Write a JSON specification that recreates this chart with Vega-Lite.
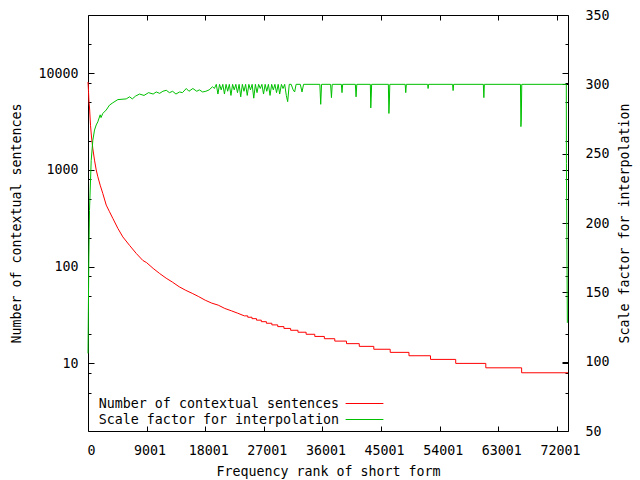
{
  "$schema": "https://vega.github.io/schema/vega-lite/v6.json",
  "width": 480,
  "height": 416,
  "autosize": "none",
  "padding": {"left": 88, "top": 15, "right": 72, "bottom": 49},
  "background": "white",
  "config": {
    "view": {"stroke": "#000", "strokeWidth": 1},
    "axis": {
      "labelFont": "DejaVu Sans Mono", "labelFontSize": 13.3, "labelColor": "#000",
      "titleFont": "DejaVu Sans Mono", "titleFontSize": 13.3, "titleFontWeight": "normal", "titleColor": "#000",
      "domain": false, "grid": false, "tickColor": "#000", "tickWidth": 1
    }
  },
  "datasets": {
    "red": [
      {"rank": 1, "n": 8130}, {"rank": 77, "n": 6500}, {"rank": 150, "n": 5000}, {"rank": 230, "n": 4480},
      {"rank": 384, "n": 2900}, {"rank": 538, "n": 2190}, {"rank": 738, "n": 1665}, {"rank": 1000, "n": 1263},
      {"rank": 1260, "n": 1000}, {"rank": 1510, "n": 850}, {"rank": 1870, "n": 696}, {"rank": 2270, "n": 572},
      {"rank": 2800, "n": 433}, {"rank": 3300, "n": 370}, {"rank": 3810, "n": 316}, {"rank": 4580, "n": 249},
      {"rank": 5350, "n": 203}, {"rank": 6380, "n": 166}, {"rank": 7410, "n": 137}, {"rank": 8420, "n": 116},
      {"rank": 9000, "n": 110}, {"rank": 10000, "n": 96}, {"rank": 11000, "n": 85}, {"rank": 12000, "n": 76},
      {"rank": 13000, "n": 69}, {"rank": 14000, "n": 62}, {"rank": 15000, "n": 57}, {"rank": 16000, "n": 53},
      {"rank": 17000, "n": 49}, {"rank": 18000, "n": 45}, {"rank": 19000, "n": 42}, {"rank": 20000, "n": 40},
      {"rank": 21000, "n": 37}, {"rank": 22000, "n": 35}, {"rank": 23000, "n": 33}, {"rank": 24000, "n": 31},
      {"rank": 24530, "n": 31}, {"rank": 24530, "n": 30}, {"rank": 25180, "n": 30}, {"rank": 25180, "n": 29},
      {"rank": 25870, "n": 29}, {"rank": 25870, "n": 28}, {"rank": 26610, "n": 28}, {"rank": 26610, "n": 27},
      {"rank": 27390, "n": 27}, {"rank": 27390, "n": 26}, {"rank": 28230, "n": 26}, {"rank": 28230, "n": 25},
      {"rank": 29130, "n": 25}, {"rank": 29130, "n": 24}, {"rank": 30080, "n": 24}, {"rank": 30080, "n": 23},
      {"rank": 31110, "n": 23}, {"rank": 31110, "n": 22}, {"rank": 32240, "n": 22}, {"rank": 32240, "n": 21},
      {"rank": 33490, "n": 21}, {"rank": 33490, "n": 20}, {"rank": 34820, "n": 20}, {"rank": 34820, "n": 19},
      {"rank": 36290, "n": 19}, {"rank": 36290, "n": 18}, {"rank": 37890, "n": 18}, {"rank": 37890, "n": 17},
      {"rank": 39690, "n": 17}, {"rank": 39690, "n": 16}, {"rank": 41650, "n": 16}, {"rank": 41650, "n": 15},
      {"rank": 43880, "n": 15}, {"rank": 43880, "n": 14}, {"rank": 46400, "n": 14}, {"rank": 46400, "n": 13},
      {"rank": 49280, "n": 13}, {"rank": 49280, "n": 12}, {"rank": 52590, "n": 12}, {"rank": 52590, "n": 11},
      {"rank": 56460, "n": 11}, {"rank": 56460, "n": 10}, {"rank": 61080, "n": 10}, {"rank": 61080, "n": 9},
      {"rank": 66580, "n": 9}, {"rank": 66580, "n": 8}, {"rank": 73700, "n": 8}
    ],
    "green": [
      {"rank": 1, "s": 106}, {"rank": 120, "s": 172}, {"rank": 230, "s": 209}, {"rank": 490, "s": 245},
      {"rank": 740, "s": 259.6}, {"rank": 1000, "s": 267}, {"rank": 1260, "s": 270.7}, {"rank": 1510, "s": 273},
      {"rank": 1870, "s": 278}, {"rank": 2000, "s": 276}, {"rank": 2270, "s": 279}, {"rank": 2800, "s": 281.5},
      {"rank": 3300, "s": 285}, {"rank": 3810, "s": 286.7}, {"rank": 4580, "s": 289}, {"rank": 5870, "s": 289.5},
      {"rank": 6380, "s": 291}, {"rank": 6800, "s": 289.5}, {"rank": 7300, "s": 291.5}, {"rank": 7910, "s": 293},
      {"rank": 8600, "s": 292}, {"rank": 9300, "s": 294}, {"rank": 10000, "s": 293}, {"rank": 10480, "s": 294.5},
      {"rank": 11000, "s": 293.5}, {"rank": 11500, "s": 295}, {"rank": 12020, "s": 295.7}, {"rank": 12500, "s": 294},
      {"rank": 13000, "s": 295}, {"rank": 13500, "s": 293}, {"rank": 14060, "s": 294.5}, {"rank": 14500, "s": 294},
      {"rank": 15090, "s": 297}, {"rank": 15500, "s": 295}, {"rank": 16100, "s": 297}, {"rank": 16700, "s": 295},
      {"rank": 17100, "s": 296}, {"rank": 17600, "s": 294.5}, {"rank": 18100, "s": 295}, {"rank": 18600, "s": 296},
      {"rank": 19130, "s": 298.3}, {"rank": 19400, "s": 297}, {"rank": 19700, "s": 300},
      {"rank": 19950, "s": 293}, {"rank": 20200, "s": 300}, {"rank": 20450, "s": 296}, {"rank": 20700, "s": 300},
      {"rank": 20950, "s": 293}, {"rank": 21200, "s": 300}, {"rank": 21450, "s": 295}, {"rank": 21700, "s": 300},
      {"rank": 21950, "s": 292}, {"rank": 22200, "s": 300}, {"rank": 22450, "s": 296}, {"rank": 22700, "s": 300},
      {"rank": 22950, "s": 294}, {"rank": 23200, "s": 300}, {"rank": 23450, "s": 291}, {"rank": 23700, "s": 300},
      {"rank": 23950, "s": 295}, {"rank": 24200, "s": 300}, {"rank": 24450, "s": 292}, {"rank": 24700, "s": 300},
      {"rank": 24950, "s": 296}, {"rank": 25200, "s": 300}, {"rank": 25450, "s": 290}, {"rank": 25700, "s": 300},
      {"rank": 25950, "s": 294}, {"rank": 26200, "s": 300}, {"rank": 26450, "s": 297}, {"rank": 26700, "s": 300},
      {"rank": 26950, "s": 293}, {"rank": 27200, "s": 300}, {"rank": 27450, "s": 295}, {"rank": 27700, "s": 300},
      {"rank": 27950, "s": 292}, {"rank": 28200, "s": 300}, {"rank": 28450, "s": 296}, {"rank": 28700, "s": 300},
      {"rank": 28950, "s": 294}, {"rank": 29200, "s": 300}, {"rank": 29430, "s": 293}, {"rank": 29700, "s": 300},
      {"rank": 29950, "s": 297}, {"rank": 30200, "s": 300}, {"rank": 30450, "s": 292}, {"rank": 30660, "s": 287.5},
      {"rank": 30900, "s": 300}, {"rank": 31200, "s": 300}, {"rank": 31500, "s": 296}, {"rank": 31730, "s": 294.5},
      {"rank": 31950, "s": 300}, {"rank": 32600, "s": 300}, {"rank": 32860, "s": 294.5}, {"rank": 33100, "s": 300},
      {"rank": 35600, "s": 300}, {"rank": 35730, "s": 285.6}, {"rank": 35860, "s": 300},
      {"rank": 37250, "s": 300}, {"rank": 37380, "s": 290.4}, {"rank": 37500, "s": 300},
      {"rank": 38900, "s": 300}, {"rank": 39000, "s": 294}, {"rank": 39100, "s": 300},
      {"rank": 41050, "s": 300}, {"rank": 41160, "s": 291}, {"rank": 41270, "s": 300},
      {"rank": 43350, "s": 300}, {"rank": 43420, "s": 283}, {"rank": 43480, "s": 290}, {"rank": 43550, "s": 300},
      {"rank": 46120, "s": 300}, {"rank": 46200, "s": 279}, {"rank": 46260, "s": 285}, {"rank": 46340, "s": 300},
      {"rank": 48700, "s": 300}, {"rank": 48790, "s": 294}, {"rank": 48880, "s": 300},
      {"rank": 52150, "s": 300}, {"rank": 52220, "s": 297}, {"rank": 52300, "s": 300},
      {"rank": 55980, "s": 300}, {"rank": 56060, "s": 295.5}, {"rank": 56140, "s": 300},
      {"rank": 60700, "s": 300}, {"rank": 60780, "s": 290.4}, {"rank": 60860, "s": 300},
      {"rank": 66400, "s": 300}, {"rank": 66470, "s": 269.5}, {"rank": 66530, "s": 275}, {"rank": 66600, "s": 300},
      {"rank": 73440, "s": 300}, {"rank": 73460, "s": 243}, {"rank": 73600, "s": 128}
    ]
  },
  "layer": [
    {
      "data": {"name": "red"},
      "transform": [{"fold": ["n"], "as": ["series", "value"]}],
      "mark": {"type": "line", "strokeWidth": 1},
      "encoding": {
        "x": {
          "field": "rank", "type": "quantitative",
          "scale": {"domain": [0, 73700], "nice": false, "zero": false},
          "axis": {
            "orient": "bottom",
            "values": [0, 9001, 18001, 27001, 36001, 45001, 54001, 63001, 72001],
            "format": "d", "tickSize": -5, "labelPadding": 17, "labelFlush": false, "labelOffset": 3,
            "title": "Frequency rank of short form", "titlePadding": 8
          }
        },
        "y": {
          "field": "value", "type": "quantitative",
          "scale": {"type": "log", "domain": [2, 40000], "nice": false},
          "axis": {
            "orient": "left",
            "values": [5, 8, 10, 20, 50, 80, 100, 200, 500, 800, 1000, 2000, 5000, 8000, 10000, 20000],
            "labelExpr": "(datum.value == 10 || datum.value == 100 || datum.value == 1000 || datum.value == 10000) ? format(datum.value, 'd') : ''",
            "labelOverlap": false,
            "tickSize": {"condition": {"test": "datum.value == 10 || datum.value == 100 || datum.value == 1000 || datum.value == 10000", "value": -6}, "value": -3},
            "labelPadding": 16,
            "title": "Number of contextual sentences", "titlePadding": 14
          }
        },
        "color": {
          "field": "series", "type": "nominal",
          "scale": {"domain": ["n", "s"], "range": ["#ff0000", "#00c000"]},
          "legend": {
            "orient": "none", "legendX": 267, "legendY": 379, "title": null,
            "labelExpr": "datum.value == 'n' ? 'Number of contextual sentences' : 'Scale factor for interpolation'",
            "symbolType": "M-2.1,0H2.1", "symbolSize": 324, "symbolStrokeWidth": 1,
            "symbolFillColor": "transparent",
            "labelAlign": "right", "labelOffset": -35, "labelLimit": 400,
            "labelFont": "DejaVu Sans Mono", "labelFontSize": 13.3, "labelColor": "#000",
            "rowPadding": 0, "padding": 0,
            "encode": {
              "symbols": {
                "enter": {"stroke": {"signal": "datum.value == 'n' ? '#ff0000' : '#00c000'"}},
                "update": {"stroke": {"signal": "datum.value == 'n' ? '#ff0000' : '#00c000'"}}
              }
            }
          }
        }
      }
    },
    {
      "data": {"name": "red"},
      "mark": {"type": "line", "opacity": 0},
      "encoding": {
        "x": {
          "field": "rank", "type": "quantitative",
          "scale": {"domain": [0, 73700], "nice": false, "zero": false},
          "axis": {
            "orient": "top", "labels": false, "title": null,
            "values": [0, 9001, 18001, 27001, 36001, 45001, 54001, 63001, 72001],
            "tickSize": -5
          }
        },
        "y": {
          "field": "n", "type": "quantitative",
          "scale": {"type": "log", "domain": [2, 40000], "nice": false},
          "axis": {
            "orient": "right", "labels": false, "title": null,
            "values": [5, 8, 10, 20, 50, 80, 100, 200, 500, 800, 1000, 2000, 5000, 8000, 10000, 20000],
            "tickSize": {"condition": {"test": "datum.value == 10 || datum.value == 100 || datum.value == 1000 || datum.value == 10000", "value": -6}, "value": -3}
          }
        }
      }
    },
    {
      "data": {"name": "green"},
      "transform": [{"fold": ["s"], "as": ["series", "value"]}],
      "mark": {"type": "line", "strokeWidth": 1},
      "encoding": {
        "x": {
          "field": "rank", "type": "quantitative",
          "scale": {"domain": [0, 73700], "nice": false, "zero": false},
          "axis": null
        },
        "y": {
          "field": "value", "type": "quantitative",
          "scale": {"domain": [50, 350], "nice": false, "zero": false},
          "axis": {
            "orient": "right",
            "values": [50, 100, 150, 200, 250, 300, 350],
            "tickSize": -6, "labelPadding": 23,
            "title": "Scale factor for interpolation", "titleAngle": 270, "titlePadding": 22
          }
        },
        "color": {"field": "series", "type": "nominal"}
      }
    }
  ],
  "resolve": {"scale": {"x": "independent", "y": "independent"}}
}
